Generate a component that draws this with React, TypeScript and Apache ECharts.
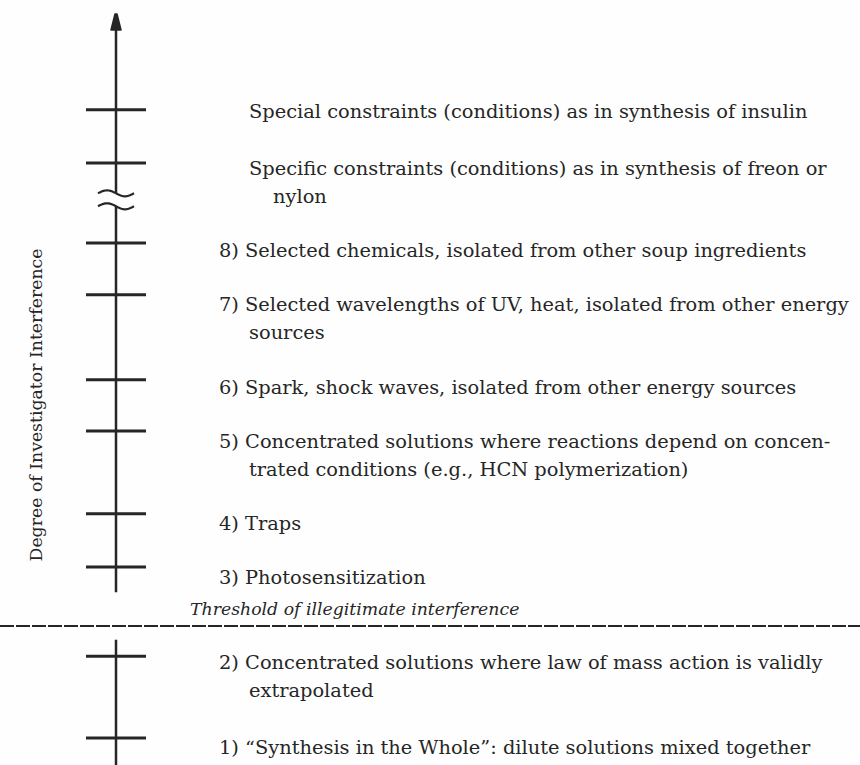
import React, { useEffect, useRef } from "react";
import * as echarts from "echarts";

// ---- data (degree of investigator interference, arbitrary 0–100 scale) ----
const axisTitle = "Degree of Investigator Interference";
const tickLevels = [91.0, 83.6, 72.5, 65.3, 53.5, 46.4, 34.9, 27.5, 15.1, 3.75];
const labelLevels = [90.7, 82.9, 71.5, 63.9, 52.5, 44.9, 33.6, 26.1, 14.2, 2.5];
const numbered = [false, false, true, true, true, true, true, true, true, true];
const firstLines = [
  "Special constraints (conditions) as in synthesis of insulin",
  "Specific constraints (conditions) as in synthesis of freon or",
  "8) Selected chemicals, isolated from other soup ingredients",
  "7) Selected wavelengths of UV, heat, isolated from other energy",
  "6) Spark, shock waves, isolated from other energy sources",
  "5) Concentrated solutions where reactions depend on concen-",
  "4) Traps",
  "3) Photosensitization",
  "2) Concentrated solutions where law of mass action is validly",
  "1) \u201cSynthesis in the Whole\u201d: dilute solutions mixed together",
];
const secondLines = [
  "",
  "nylon",
  "",
  "sources",
  "",
  "trated conditions (e.g., HCN polymerization)",
  "",
  "",
  "extrapolated",
  "",
];
const thresholdLevel = 19.3;
const thresholdLabelLevel = 21.7;
const thresholdLabel = "Threshold of illegitimate interference";
// axis segments [from, to, arrow]
const axisSegments: [number, number, number][] = [
  [0, 17.4, 0],
  [24.0, 77.6, 0],
  [79.4, 104.3, 1],
];
const breakLevels = [79.4, 77.6];
const axisX = 56;

const INK = "#262626";
const FONT = "DejaVu Serif";
const BODY = 19.4;

export default function App() {
  const ref = useRef<HTMLDivElement>(null);
  useEffect(() => {
    document.body.style.margin = "0";
    const chart = echarts.init(ref.current!, undefined, { renderer: "svg" });
    const option: any = {
      animation: false,
      backgroundColor: "#fefefe",
      grid: { left: 60, right: 0, top: 45, bottom: 0 },
      xAxis: { type: "value", min: 0, max: 800, show: false },
      yAxis: {
        type: "value",
        min: 0,
        max: 100,
        axisLine: { show: false },
        axisTick: { show: false },
        axisLabel: { show: false },
        splitLine: { show: false },
        name: axisTitle,
        nameLocation: "middle",
        nameRotate: 90,
        nameGap: 16,
        nameTextStyle: { fontFamily: FONT, fontSize: 17.3, color: INK },
      },
      series: [
        {
          type: "custom",
          name: "axis",
          clip: false,
          data: axisSegments.map((s) => [axisX, s[0], s[1], s[2]]),
          renderItem: (params: any, api: any) => {
            const a = api.coord([api.value(0), api.value(1)]);
            const b = api.coord([api.value(0), api.value(2)]);
            const arrow = api.value(3);
            const children: any[] = [
              {
                type: "line",
                shape: { x1: a[0], y1: a[1], x2: b[0], y2: b[1] + (arrow ? 8 : 0) },
                style: { stroke: INK, lineWidth: 2.5 },
              },
            ];
            if (arrow) {
              children.push({
                type: "polygon",
                shape: {
                  points: [
                    [b[0] - 1, b[1]],
                    [b[0] + 1, b[1]],
                    [b[0] + 5, b[1] + 16],
                    [b[0] - 5, b[1] + 16],
                  ],
                },
                style: { fill: INK, stroke: INK, lineWidth: 1.5, lineJoin: "round" },
              });
            }
            return { type: "group", children };
          },
        },
        {
          type: "custom",
          name: "break",
          clip: false,
          data: breakLevels.map((v) => [axisX, v]),
          renderItem: (params: any, api: any) => {
            const c = api.coord([api.value(0), api.value(1)]);
            const pts: number[][] = [];
            for (let i = 0; i <= 20; i++) {
              const t = i / 20;
              pts.push([c[0] - 18 + 36 * t, c[1] - 3 * Math.sin(t * Math.PI * 2)]);
            }
            return {
              type: "polyline",
              shape: { points: pts },
              style: { stroke: INK, lineWidth: 2.2, fill: "none" },
            };
          },
        },
        {
          type: "custom",
          name: "levels",
          clip: false,
          data: tickLevels.map((v, i) => [axisX, v, labelLevels[i]]),
          renderItem: (params: any, api: any) => {
            const i = params.dataIndex;
            const p = api.coord([api.value(0), api.value(1)]);
            const t = api.coord([api.value(0), api.value(2)]);
            const x0 = p[0] + (numbered[i] ? 103 : 133);
            const children: any[] = [
              {
                type: "line",
                shape: { x1: p[0] - 30, y1: p[1], x2: p[0] + 30, y2: p[1] },
                style: { stroke: INK, lineWidth: 3 },
              },
              {
                type: "text",
                x: x0,
                y: t[1],
                style: {
                  text: firstLines[i],
                  fill: INK,
                  font: `${BODY}px "${FONT}"`,
                  verticalAlign: "middle",
                  align: "left",
                },
              },
            ];
            if (secondLines[i]) {
              children.push({
                type: "text",
                x: x0 + (numbered[i] ? 30 : 24),
                y: t[1] + 28,
                style: {
                  text: secondLines[i],
                  fill: INK,
                  font: `${BODY}px "${FONT}"`,
                  verticalAlign: "middle",
                  align: "left",
                },
              });
            }
            return { type: "group", children };
          },
        },
        {
          type: "custom",
          name: "threshold",
          clip: false,
          data: [[axisX, thresholdLevel, thresholdLabelLevel]],
          renderItem: (params: any, api: any) => {
            const p = api.coord([api.value(0), api.value(1)]);
            const t = api.coord([api.value(0), api.value(2)]);
            return {
              type: "group",
              children: [
                {
                  type: "line",
                  shape: { x1: 0, y1: p[1], x2: api.getWidth(), y2: p[1] },
                  style: { stroke: INK, lineWidth: 2, lineDash: [14, 2] },
                },
                {
                  type: "text",
                  x: p[0] + 74,
                  y: t[1],
                  style: {
                    text: thresholdLabel,
                    fill: INK,
                    font: `italic 17.3px "${FONT}"`,
                    verticalAlign: "middle",
                    align: "left",
                  },
                },
              ],
            };
          },
        },
      ],
    };
    chart.setOption(option);
    return () => chart.dispose();
  }, []);
  return <div ref={ref} style={{ width: 860, height: 765 }} />;
}
